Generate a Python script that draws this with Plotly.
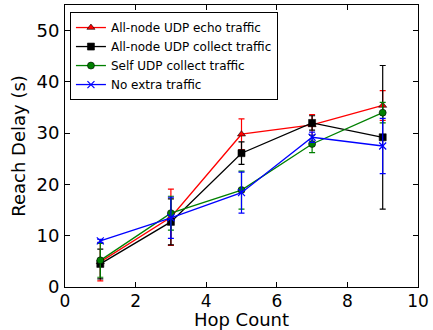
import plotly.graph_objects as go

hops = [1, 3, 5, 7, 9]

names = ["All-node UDP echo traffic", "All-node UDP collect traffic",
         "Self UDP collect traffic", "No extra traffic"]

echo_mean = [4.9, 13.6, 29.8, 31.6, 35.4]
echo_err = [3.7, 5.5, 3.0, 2.0, 2.9]

collect_mean = [4.5, 12.7, 26.1, 32.0, 29.2]
collect_err = [2.9, 4.5, 2.2, 1.4, 14.0]

self_mean = [5.2, 14.4, 18.9, 27.9, 34.0]
self_err = [3.3, 3.3, 3.7, 1.7, 2.0]

none_mean = [9.0, 13.5, 18.4, 29.2, 27.5]
none_err = [0.3, 4.0, 4.0, 1.0, 5.4]

colors = ["#ff0000", "#000000", "#008000", "#0000ff"]
symbols = ["triangle-up", "square", "circle", "x-thin"]
sizes = [7, 7, 7, 7]

series = [(echo_mean, echo_err), (collect_mean, collect_err),
          (self_mean, self_err), (none_mean, none_err)]

fig = go.Figure()
for (m, e), name, c, s, sz in zip(series, names, colors, symbols, sizes):
    marker = dict(color=c, symbol=s, size=sz,
                  line=dict(color=c if s == "x-thin" else "black",
                            width=1.2 if s == "x-thin" else 0.6))
    fig.add_trace(go.Scatter(
        x=hops, y=m, name=name, mode="lines+markers",
        line=dict(color=c, width=1.3),
        marker=marker,
        error_y=dict(type="data", array=e, visible=True, color=c, thickness=1.2, width=3),
    ))

axis_common = dict(
    showgrid=False, zeroline=False, showline=True, linecolor="black", linewidth=1,
    mirror="ticks", ticks="inside", ticklen=5, tickcolor="black", tickwidth=1,
    automargin=False,
)

fig.update_layout(
    width=433, height=330,
    margin=dict(l=65, r=15, t=5, b=43),
    paper_bgcolor="white", plot_bgcolor="white",
    font=dict(family="DejaVu Sans", color="black"),
    xaxis=dict(range=[0, 10], dtick=2, tick0=0,
               tickfont=dict(family="DejaVu Sans", size=17, color="black"),
               ticklabelstandoff=-1,
               title=dict(text="Hop Count", font=dict(size=18), standoff=5),
               **axis_common),
    yaxis=dict(range=[0, 55], tickvals=[0, 10, 20, 30, 40, 50],
               tickfont=dict(family="DejaVu Sans", size=18, color="black"),
               ticklabelstandoff=1,
               title=dict(text="Reach Delay (s)", font=dict(size=18), standoff=6),
               **axis_common),
    legend=dict(x=0.014, y=0.975, xanchor="left", yanchor="top",
                bordercolor="black", borderwidth=1, bgcolor="white",
                font=dict(family="DejaVu Sans", size=12, color="black"),
                tracegroupgap=0, itemwidth=30),
    showlegend=True,
)

fig.write_html("out.html", config={"displayModeBar": False},
               post_script="document.body.style.margin='0';")
